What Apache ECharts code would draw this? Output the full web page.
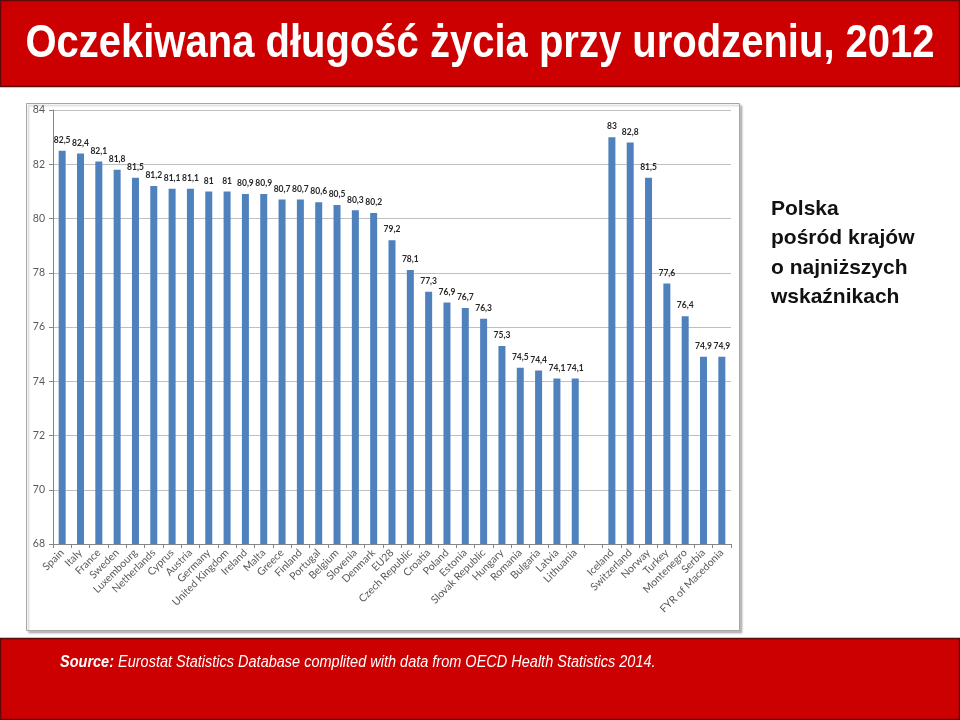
<!DOCTYPE html>
<html>
<head>
<meta charset="utf-8">
<script src="https://cdn.jsdelivr.net/npm/echarts@6/dist/echarts.min.js"></script>
<style>
  html, body { margin: 0; padding: 0; background: #fff; }
  #chart { width: 960px; height: 720px; }
</style>
</head>
<body>
<div id="chart"></div>
<script>
'use strict';

// kraje (pusta pozycja = przerwa między UE a krajami spoza UE)
var countries = ['Spain', 'Italy', 'France', 'Sweden', 'Luxembourg', 'Netherlands', 'Cyprus', 'Austria',
  'Germany', 'United Kingdom', 'Ireland', 'Malta', 'Greece', 'Finland', 'Portugal', 'Belgium', 'Slovenia',
  'Denmark', 'EU28', 'Czech Republic', 'Croatia', 'Poland', 'Estonia', 'Slovak Republic', 'Hungary',
  'Romania', 'Bulgaria', 'Latvia', 'Lithuania', '', 'Iceland', 'Switzerland', 'Norway', 'Turkey',
  'Montenegro', 'Serbia', 'FYR of Macedonia'];

var lifeExpectancy = [82.5, 82.4, 82.1, 81.8, 81.5, 81.2, 81.1, 81.1, 81, 81, 80.9, 80.9, 80.7, 80.7,
  80.6, 80.5, 80.3, 80.2, 79.2, 78.1, 77.3, 76.9, 76.7, 76.3, 75.3, 74.5, 74.4, 74.1, 74.1, '-',
  83, 82.8, 81.5, 77.6, 76.4, 74.9, 74.9];

var yMin = 68, yMax = 84, yStep = 2;

var titleText = 'Oczekiwana długość życia przy urodzeniu, 2012';
var sideText = 'Polska\npośród krajów\no najniższych\nwskaźnikach';
var sourceLabel = 'Source:';
var sourceText = ' Eurostat Statistics Database complited with data from OECD Health Statistics 2014.';

var chart = echarts.init(document.getElementById('chart'));
chart.setOption({
  backgroundColor: '#ffffff',
  animation: false,
  graphic: [
    // nagłówek
    { type: 'rect', shape: { x: 0.5, y: 0.5, width: 959, height: 86 },
      style: { fill: '#cc0000', stroke: '#5c0a0a', lineWidth: 1.5 } },
    { type: 'text', x: 480, y: 44, scaleY: 1.15,
      style: { text: titleText, fill: '#ffffff', font: 'bold 40px "Liberation Sans", Arial, sans-serif',
        textAlign: 'center', textVerticalAlign: 'middle' } },
    // ramka wykresu
    { type: 'rect', z: -10, shape: { x: 26.5, y: 103.5, width: 713, height: 527 },
      style: { fill: '#ffffff', stroke: '#a6a6a6', lineWidth: 1, shadowColor: 'rgba(0,0,0,0.25)', shadowOffsetX: 2, shadowOffsetY: 2, shadowBlur: 2 } },
    // tekst boczny
    { type: 'text', x: 771, y: 194,
      style: { text: sideText, fill: '#111111', font: 'bold 21px "Liberation Sans", Arial, sans-serif',
        lineHeight: 29.5, textAlign: 'left', textVerticalAlign: 'top' } },
    // stopka
    { type: 'rect', shape: { x: 0.5, y: 638.5, width: 959, height: 81 },
      style: { fill: '#cc0000', stroke: '#5c0a0a', lineWidth: 1.5 } },
    { type: 'text', x: 60, y: 663, scaleY: 1.1,
      style: {
        text: '{b|' + sourceLabel + '}{i|' + sourceText + '}',
        textVerticalAlign: 'middle',
        rich: {
          b: { fill: '#ffffff', font: 'italic bold 14.5px "Liberation Sans", Arial, sans-serif' },
          i: { fill: '#ffffff', font: 'italic 14.5px "Liberation Sans", Arial, sans-serif' }
        }
      } }
  ],
  grid: { left: 53, right: 229, top: 110, bottom: 176 },
  xAxis: {
    type: 'category',
    data: countries,
    axisLine: { lineStyle: { color: '#868686' } },
    axisTick: { show: true, interval: 0, length: 4, lineStyle: { color: '#868686' } },
    axisLabel: {
      interval: 0, rotate: 45, margin: 7,
      color: '#595959', fontSize: 10.5, fontFamily: 'Lato, "Open Sans", sans-serif'
    },
    splitLine: { show: false }
  },
  yAxis: {
    type: 'value',
    min: yMin, max: yMax, interval: yStep,
    axisLine: { show: true, lineStyle: { color: '#868686' } },
    axisTick: { show: true, length: 4, lineStyle: { color: '#868686' } },
    axisLabel: { color: '#595959', fontSize: 10.5, margin: 8, fontFamily: 'Lato, "Open Sans", sans-serif' },
    splitLine: { lineStyle: { color: '#bfbfbf', width: 1 } }
  },
  series: [{
    type: 'bar',
    data: lifeExpectancy,
    barWidth: 7,
    itemStyle: { color: '#4f81bd' },
    label: {
      show: true,
      position: 'top',
      distance: 6,
      color: '#262626',
      fontSize: 8.5,
      fontWeight: 'bold',
      fontFamily: 'Lato, "Open Sans", sans-serif',
      formatter: function (p) { return String(p.value).replace('.', ','); }
    }
  }]
});
</script>
</body>
</html>
